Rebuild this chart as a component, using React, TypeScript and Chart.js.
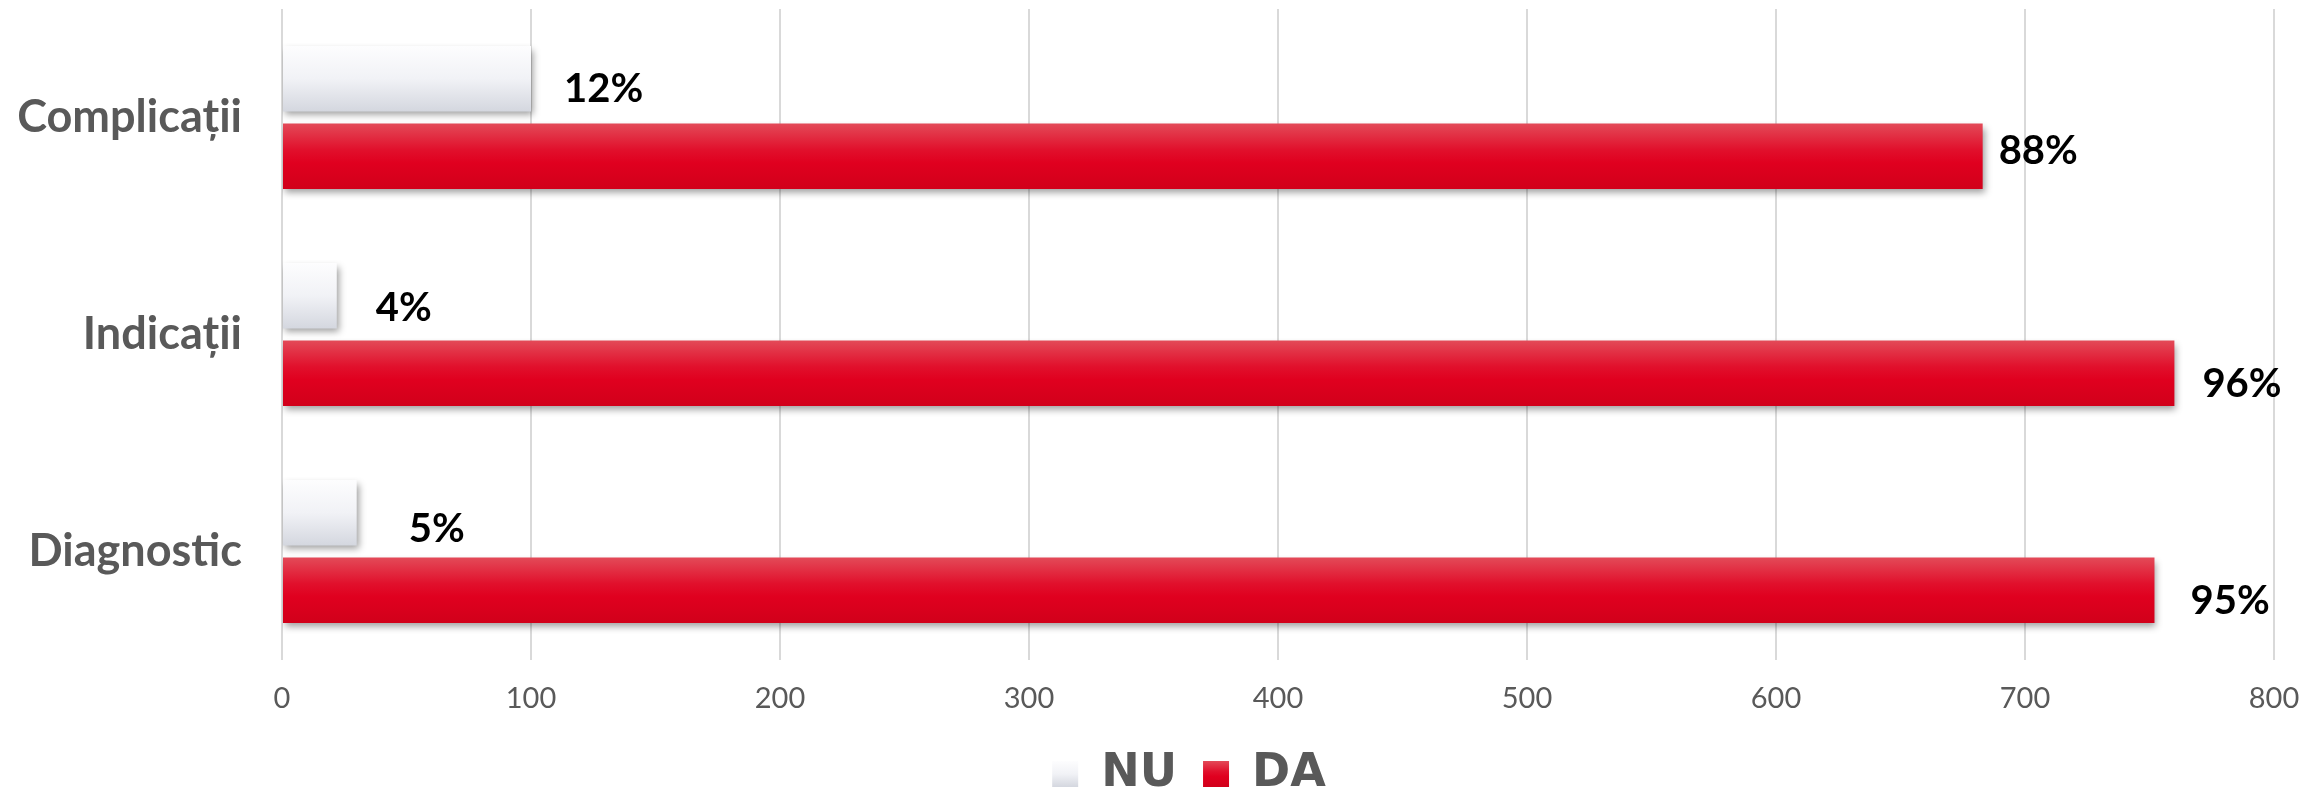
import React, { useEffect, useRef } from 'react';
import { Chart, registerables } from 'chart.js';

Chart.register(...registerables);

// ---------- data ----------
const categories = ['Complicații', 'Indicații', 'Diagnostic'];
const seriesNames = ['NU', 'DA'];
const nuValues = [100, 22, 30];
const daValues = [683, 760, 752];
const nuLabels = ['12%', '4%', '5%'];
const daLabels = ['88%', '96%', '95%'];
const xMin = 0;
const xMax = 800;
const xStep = 100;

// ---------- styling ----------
const W = 2320;
const H = 788;
const GRAY = '#595959';
const nuGradient: [number, string][] = [
  [0, '#fdfdfe'],
  [0.5, '#f1f2f6'],
  [1, '#d4d7df'],
];
const daGradient: [number, string][] = [
  [0, '#e34a58'],
  [0.4, '#e1102c'],
  [0.6, '#e0001f'],
  [1, '#d1001a'],
];
const gradients = [nuGradient, daGradient];
// data-label nudges [dx from bar end, dy from bar centre]
const labelOffsets = [
  [[33, 10], [39, 12], [52, 16]],
  [[16, -5], [28, 11], [36, 11]],
];
const labelTexts = [nuLabels, daLabels];
const LEGEND_SHIFT_X = 52;

const barStylePlugin = {
  id: 'barStyle',
  afterLayout(chart: any) {
    const lg = chart.legend;
    if (lg && !lg.__shiftPatched) {
      const origDraw = lg.draw;
      lg.draw = function (...args: any[]) {
        const c = chart.ctx;
        c.save();
        c.translate(LEGEND_SHIFT_X, 0);
        origDraw.apply(this, args);
        c.restore();
      };
      lg.__shiftPatched = true;
    }
  },
  beforeDraw(chart: any) {
    const ctx = chart.ctx;
    const lg = chart.legend;
    if (lg && lg.legendItems && lg.legendHitBoxes) {
      lg.legendItems.forEach((item: any, i: number) => {
        const hb = lg.legendHitBoxes[i];
        if (!hb) return;
        const c = hb.top + hb.height / 2;
        const g = ctx.createLinearGradient(0, c - 13, 0, c + 13);
        gradients[i].forEach(([o, col]) => g.addColorStop(o, col));
        item.fillStyle = g;
      });
    }
  },
  beforeDatasetDraw(chart: any, args: any) {
    const ctx = chart.ctx;
    const stops = gradients[args.index];
    args.meta.data.forEach((el: any) => {
      const { y, height } = el.getProps(['y', 'height'], true);
      const g = ctx.createLinearGradient(0, y - height / 2, 0, y + height / 2);
      stops.forEach(([o, col]) => g.addColorStop(o, col));
      const opts = Object.assign({}, el.options, { backgroundColor: g });
      delete (opts as any).$shared;
      el.options = opts;
    });
    ctx.save();
    ctx.shadowColor = 'rgba(0,0,0,0.38)';
    ctx.shadowBlur = 7;
    ctx.shadowOffsetX = 2;
    ctx.shadowOffsetY = 4;
  },
  afterDatasetDraw(chart: any) {
    chart.ctx.restore();
  },
  afterDatasetsDraw(chart: any) {
    const ctx = chart.ctx;
    ctx.save();
    ctx.font = 'bold 40px Lato';
    ctx.fillStyle = '#000000';
    ctx.textAlign = 'left';
    ctx.textBaseline = 'middle';
    chart.data.datasets.forEach((_: any, di: number) => {
      const meta = chart.getDatasetMeta(di);
      meta.data.forEach((el: any, i: number) => {
        const [dx, dy] = labelOffsets[di][i];
        ctx.fillText(labelTexts[di][i], el.x + dx, el.y + dy);
      });
    });
    ctx.restore();
  },
};

export default function App() {
  const ref = useRef<HTMLCanvasElement | null>(null);

  useEffect(() => {
    document.body.style.margin = '0';
    document.body.style.overflow = 'hidden';
    const canvas = ref.current;
    if (!canvas) return;
    const chart = new Chart(canvas, {
      type: 'bar',
      data: {
        labels: categories,
        datasets: [
          {
            label: seriesNames[0],
            data: nuValues,
            backgroundColor: '#eceef3',
            borderWidth: 0,
            categoryPercentage: 0.714,
            barPercentage: 0.845,
          },
          {
            label: seriesNames[1],
            data: daValues,
            backgroundColor: '#e0001f',
            borderWidth: 0,
            categoryPercentage: 0.714,
            barPercentage: 0.845,
          },
        ],
      },
      options: {
        indexAxis: 'y',
        responsive: false,
        animation: false,
        devicePixelRatio: 1,
        layout: { padding: { top: 9, right: 46, bottom: -19, left: 0 } },
        scales: {
          x: {
            min: xMin,
            max: xMax,
            grid: { color: '#d9d9d9', lineWidth: 2, drawTicks: false },
            border: { display: false },
            ticks: {
              stepSize: xStep,
              padding: 21,
              color: GRAY,
              font: { family: 'Lato', size: 29 },
            },
            afterFit(scale: any) {
              scale.height = 65;
              scale.paddingLeft = 0;
              scale.paddingRight = 0;
            },
          },
          y: {
            grid: { display: false, drawTicks: false },
            border: { display: false },
            ticks: {
              padding: 40,
              color: GRAY,
              font: { family: 'Lato', size: 45, weight: 'bold' },
            },
            afterFit(scale: any) {
              scale.width = 282;
              scale.paddingTop = 0;
              scale.paddingBottom = 0;
            },
          },
        },
        plugins: {
          legend: {
            position: 'bottom',
            labels: {
              boxWidth: 26,
              boxHeight: 26,
              padding: 26,
              color: GRAY,
              font: { family: 'DejaVu Sans', size: 46, weight: 'bold' },
            },
          },
          tooltip: { enabled: false },
        },
      },
      plugins: [barStylePlugin],
    } as any);
    return () => chart.destroy();
  }, []);

  return (
    <div style={{ width: W, height: H }}>
      <canvas ref={ref} width={W} height={H} style={{ display: 'block' }} />
    </div>
  );
}
